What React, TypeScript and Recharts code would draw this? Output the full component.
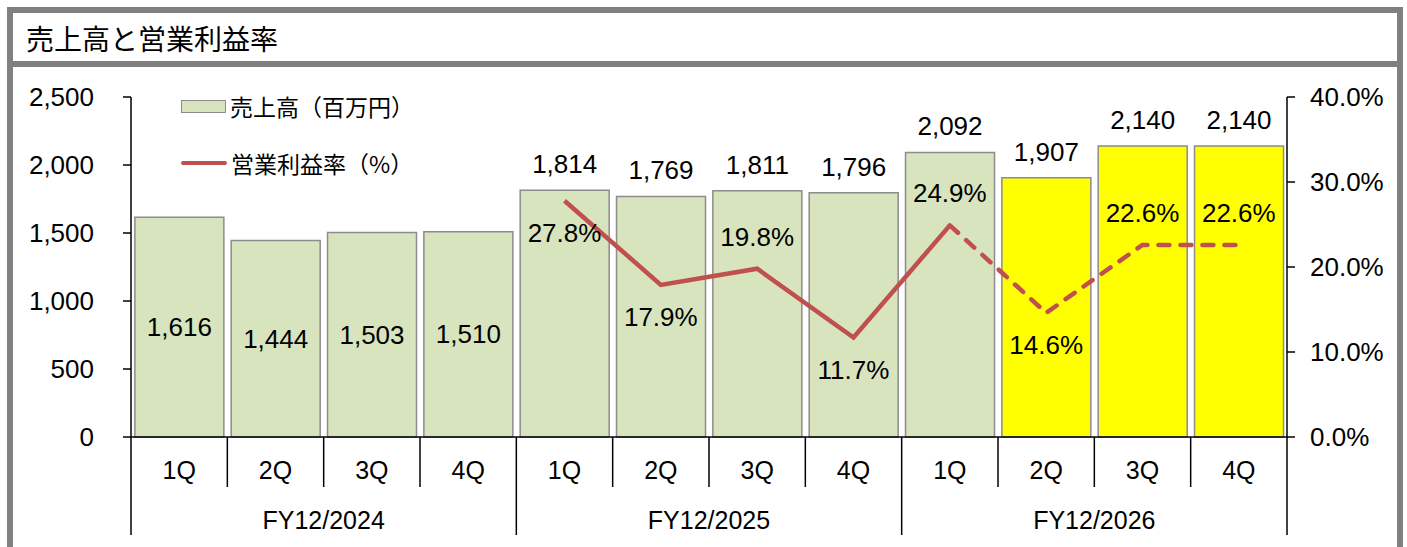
import React from "react"
import { ComposedChart, Bar, Line, XAxis, YAxis, Cell, LabelList, Legend } from "recharts"

const title = "売上高と営業利益率"
const salesName = "売上高（百万円）"
const marginName = "営業利益率（%）"

const quarters = ["1Q", "2Q", "3Q", "4Q", "1Q", "2Q", "3Q", "4Q", "1Q", "2Q", "3Q", "4Q"]
const quarterYears = [
  "FY12/2024", "FY12/2024", "FY12/2024", "FY12/2024",
  "FY12/2025", "FY12/2025", "FY12/2025", "FY12/2025",
  "FY12/2026", "FY12/2026", "FY12/2026", "FY12/2026",
]
const sales = [1616, 1444, 1503, 1510, 1814, 1769, 1811, 1796, 2092, 1907, 2140, 2140]
const marginActual = [null, null, null, null, 27.8, 17.9, 19.8, 11.7, 24.9, null, null, null]
const marginPlan = [null, null, null, null, null, null, null, null, 24.9, 14.6, 22.6, 22.6]
const isPlan = [false, false, false, false, false, false, false, false, false, true, true, true]
const salesTicks = [0, 500, 1000, 1500, 2000, 2500]
const marginTicks = [0, 10, 20, 30, 40]

const GREEN = "#D7E4BD"
const YELLOW = "#FFFF00"
const RED = "#C0504D"
const FRAME = "#808080"
const BAR_EDGE = "#8C8C8C"
const FONT = '"Liberation Sans", Arial, "Noto Sans CJK JP", sans-serif'
const JP_FONT = '"Noto Sans CJK JP", "Liberation Sans", sans-serif'

const data = quarters.map((q, i) => ({
  key: `${quarterYears[i]}-${q}`,
  sales: sales[i],
  actual: marginActual[i],
  plan: marginPlan[i],
}))

const marginAt = (i: number) => marginActual[i] ?? marginPlan[i]

// bar value: inside the bar for FY12/2024, above the bar otherwise
const SalesLabel = (p: any) => {
  const { x, y, width, height, value, index } = p
  const inside = quarterYears[index] === quarterYears[0]
  const cy = inside ? y + height / 2 : y - 26
  return (
    <text x={x + width / 2} y={cy} textAnchor="middle" dominantBaseline="central" fontSize={26} fill="#000">
      {Number(value).toLocaleString("en-US")}
    </text>
  )
}

// margin value: above the point when it rose, below when it fell
const makeMarginLabel = (skipActual: boolean) => (p: any) => {
  const { x, y, value, index } = p
  if (value == null) return null
  if (skipActual && marginActual[index] != null) return null
  const prev = marginAt(index - 1)
  const above = prev != null && value >= prev
  return (
    <text x={x} y={above ? y - 32 : y + 32} textAnchor="middle" dominantBaseline="central" fontSize={26} fill="#000">
      {`${Number(value).toFixed(1)}%`}
    </text>
  )
}

const QuarterTick = (p: any) => {
  const { x, y, payload } = p
  const i = p.index ?? payload.index
  const half = payload.offset || 48
  const left = x - half
  const year = quarterYears[i]
  const groupStart = i === 0 || quarterYears[i - 1] !== year
  const isLast = i === quarters.length - 1
  const groupSize = quarterYears.filter((v) => v === year).length
  return (
    <g>
      <line x1={left} x2={left} y1={y} y2={y + (groupStart ? 98 : 50)} stroke="#000" strokeWidth={1.5} />
      {isLast && <line x1={x + half} x2={x + half} y1={y} y2={y + 98} stroke="#000" strokeWidth={1.5} />}
      <text x={x} y={y + 33} textAnchor="middle" dominantBaseline="central" fontSize={25} fill="#000">
        {quarters[i]}
      </text>
      {groupStart && (
        <text x={left + groupSize * half} y={y + 83} textAnchor="middle" dominantBaseline="central" fontSize={25} fill="#000">
          {year}
        </text>
      )}
    </g>
  )
}

const LegendBox = () => (
  <div style={{ fontFamily: JP_FONT, fontSize: 23, color: "#000", lineHeight: "28px" }}>
    <div style={{ display: "flex", alignItems: "center", height: 28 }}>
      <span style={{ display: "inline-block", width: 43, height: 11, background: GREEN, border: `1px solid ${BAR_EDGE}`, marginRight: 4 }} />
      {salesName}
    </div>
    <div style={{ display: "flex", alignItems: "center", height: 28, marginTop: 29 }}>
      <span style={{ display: "inline-block", width: 46, height: 4, background: RED, borderRadius: 2, marginRight: 4 }} />
      {marginName}
    </div>
  </div>
)

export default function App() {
  return (
    <div style={{ position: "absolute", left: 0, top: 0, width: 1407, height: 547, overflow: "hidden", background: "#fff", fontFamily: FONT }}>
      <div style={{ position: "absolute", left: 7, top: 7, width: 1396, height: 600, border: `6px solid ${FRAME}`, boxSizing: "border-box" }} />
      <div style={{ position: "absolute", left: 7, top: 61, width: 1396, height: 6, background: FRAME }} />
      <div style={{ position: "absolute", left: 26, top: 19, fontFamily: JP_FONT, fontSize: 28, lineHeight: "38px", color: "#000" }}>
        {title}
      </div>
      <div style={{ position: "absolute", left: 0, top: 0 }}>
        <ComposedChart
          width={1407}
          height={547}
          data={data}
          margin={{ top: 97, right: 10, bottom: 10, left: 0 }}
          barCategoryGap="4%"
        >
          <XAxis
            xAxisId={0}
            dataKey="key"
            interval={0}
            height={100}
            tickLine={false}
            tickSize={0}
            tickMargin={0}
            axisLine={{ stroke: "#000", strokeWidth: 1.5 }}
            tick={<QuarterTick />}
          />
          <YAxis
            yAxisId="sales"
            width={131}
            domain={[0, 2500]}
            ticks={salesTicks}
            interval={0}
            tickSize={8}
            tickMargin={29}
            axisLine={{ stroke: "#000", strokeWidth: 1.5 }}
            tickLine={{ stroke: "#000", strokeWidth: 1.5 }}
            tick={{ fill: "#000", fontSize: 26 }}
            tickFormatter={(v) => Number(v).toLocaleString("en-US")}
          />
          <YAxis
            yAxisId="margin"
            orientation="right"
            width={110}
            domain={[0, 40]}
            ticks={marginTicks}
            interval={0}
            tickSize={8}
            tickMargin={15}
            axisLine={{ stroke: "#000", strokeWidth: 1.5 }}
            tickLine={{ stroke: "#000", strokeWidth: 1.5 }}
            tick={{ fill: "#000", fontSize: 26 }}
            tickFormatter={(v) => `${Number(v).toFixed(1)}%`}
          />
          <Legend
            layout="horizontal"
            verticalAlign="middle"
            align="center"
            content={<LegendBox />}
            wrapperStyle={{ left: 181, top: 92, width: 320, height: 90 }}
          />
          <Bar yAxisId="sales" dataKey="sales" stroke={BAR_EDGE} strokeWidth={1.5} isAnimationActive={false}>
            {data.map((d, i) => (
              <Cell key={d.key} fill={isPlan[i] ? YELLOW : GREEN} />
            ))}
            <LabelList dataKey="sales" content={SalesLabel} />
          </Bar>
          <Line
            yAxisId="margin"
            dataKey="actual"
            stroke={RED}
            strokeWidth={4.5}
            dot={false}
            activeDot={false}
            isAnimationActive={false}
          >
            <LabelList dataKey="actual" content={makeMarginLabel(false)} />
          </Line>
          <Line
            yAxisId="margin"
            dataKey="plan"
            stroke={RED}
            strokeWidth={4.5}
            strokeDasharray="11 11"
            strokeLinecap="round"
            dot={false}
            activeDot={false}
            isAnimationActive={false}
          >
            <LabelList dataKey="plan" content={makeMarginLabel(true)} />
          </Line>
        </ComposedChart>
      </div>
    </div>
  )
}
